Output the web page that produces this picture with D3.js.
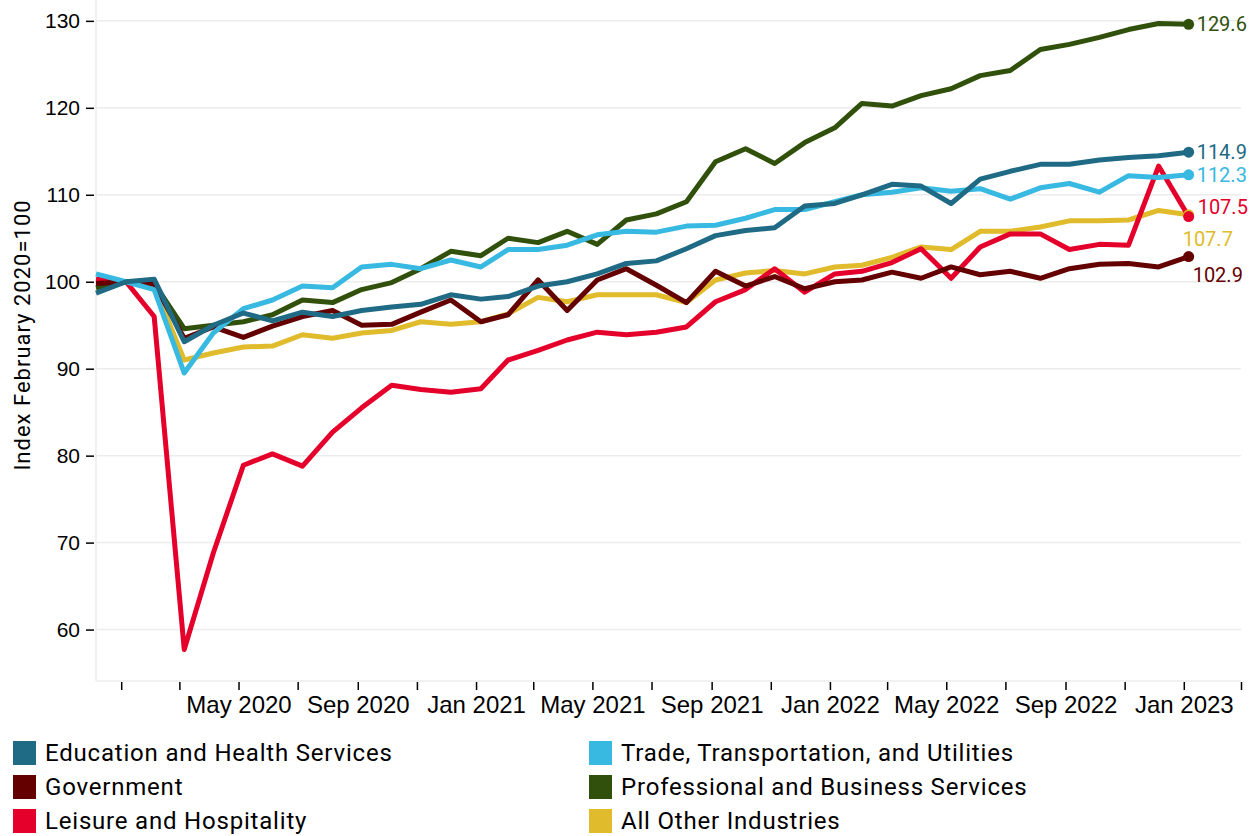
<!DOCTYPE html>
<html>
<head>
<meta charset="utf-8">
<script src="https://cdn.jsdelivr.net/npm/d3@7"></script>
<style>
  body { margin: 0; background: #fff; }
  svg { font-family: Roboto, "Noto Sans", sans-serif; }
</style>
</head>
<body>
<div id="chart"></div>
<script>
// months Jan 2020 - Feb 2023
const months = [
  "2020-01","2020-02","2020-03","2020-04","2020-05","2020-06","2020-07","2020-08","2020-09","2020-10","2020-11","2020-12",
  "2021-01","2021-02","2021-03","2021-04","2021-05","2021-06","2021-07","2021-08","2021-09","2021-10","2021-11","2021-12",
  "2022-01","2022-02","2022-03","2022-04","2022-05","2022-06","2022-07","2022-08","2022-09","2022-10","2022-11","2022-12",
  "2023-01","2023-02"
];

const education = [98.7,100,100.3,93.1,95.0,96.4,95.5,96.5,96.0,96.7,97.1,97.4,
  98.5,98.0,98.3,99.5,100.0,100.9,102.1,102.4,103.8,105.3,105.9,106.2,
  108.7,109.0,110.0,111.2,111.0,109.0,111.8,112.7,113.5,113.5,114.0,114.3,
  114.5,114.9];
const trade = [100.9,100,99.1,89.5,94.1,96.9,97.9,99.5,99.3,101.7,102.0,101.5,
  102.5,101.7,103.7,103.7,104.2,105.4,105.8,105.7,106.4,106.5,107.3,108.3,
  108.3,109.2,110.0,110.3,110.8,110.4,110.7,109.5,110.8,111.3,110.3,112.2,
  112.0,112.3];
const government = [99.8,100,99.7,93.5,94.8,93.6,94.9,96.0,96.7,95.0,95.1,96.5,
  97.9,95.4,96.2,100.2,96.7,100.2,101.5,99.6,97.6,101.2,99.5,100.6,
  99.2,100.0,100.2,101.1,100.4,101.7,100.8,101.2,100.4,101.5,102.0,102.1,
  101.7,102.9];
const professional = [99.3,100,99.8,94.6,95.0,95.4,96.2,97.9,97.6,99.1,99.9,101.5,
  103.5,103.0,105.0,104.5,105.8,104.3,107.1,107.8,109.2,113.8,115.3,113.6,
  116.0,117.7,120.5,120.2,121.4,122.2,123.7,124.3,126.7,127.3,128.1,129.0,
  129.7,129.6];
const leisure = [100.3,100,96.0,57.7,68.8,78.9,80.2,78.8,82.7,85.5,88.1,87.6,
  87.3,87.7,91.0,92.1,93.3,94.2,93.9,94.2,94.8,97.7,99.1,101.5,
  98.8,100.9,101.2,102.2,103.8,100.4,104.0,105.5,105.5,103.7,104.3,104.2,
  113.3,107.5];
const otherIndustries = [99.5,100,99.5,91.0,91.8,92.5,92.6,93.9,93.5,94.1,94.4,95.4,
  95.1,95.4,96.3,98.2,97.7,98.5,98.5,98.5,97.6,100.2,101.0,101.3,
  100.9,101.7,101.9,102.8,104.0,103.7,105.8,105.8,106.3,107.0,107.0,107.1,
  108.2,107.7];

const yTicks = [60, 70, 80, 90, 100, 110, 120, 130];

const series = [
  {name: "Education and Health Services", values: education, color: "#1f6a84"},
  {name: "Trade, Transportation, and Utilities", values: trade, color: "#37b9e1"},
  {name: "Government", values: government, color: "#650000"},
  {name: "Professional and Business Services", values: professional, color: "#30500b"},
  {name: "Leisure and Hospitality", values: leisure, color: "#e4002b"},
  {name: "All Other Industries", values: otherIndustries, color: "#e0bb2c"}
];

// end label nudges
const labelNudge = {
  "Education and Health Services": [8, 0],
  "Trade, Transportation, and Utilities": [8, 0],
  "Government": [4, 18],
  "Professional and Business Services": [8, 0],
  "Leisure and Hospitality": [9, -10],
  "All Other Industries": [-6, 24]
};

const width = 1255, height = 836;
const parseMonth = d3.utcParse("%Y-%m");
const dates = months.map(parseMonth);

const svg = d3.select("#chart")
  .append("svg")
  .attr("width", width)
  .attr("height", height);

const x = d3.scaleUtc()
  .domain([parseMonth("2020-01"), new Date(Date.UTC(2023, 2, 27))])
  .range([96, 1241]);

// the axis in the original sits ~26 days off the data points
const xTickScale = x.copy().domain(x.domain().map(d => d3.utcDay.offset(d, -26)));

const y = d3.scaleLinear()
  .domain([54.2, 132.4])
  .range([680, 0]);

// grid
svg.append("g")
  .selectAll("line")
  .data(yTicks)
  .join("line")
    .attr("x1", 96)
    .attr("x2", 1241)
    .attr("y1", d => y(d))
    .attr("y2", d => y(d))
    .attr("stroke", "#ececec")
    .attr("stroke-width", 1.5);

svg.append("line")
  .attr("x1", 96).attr("x2", 96)
  .attr("y1", 0).attr("y2", 681)
  .attr("stroke", "#ececec").attr("stroke-width", 1.5);
svg.append("line")
  .attr("x1", 96).attr("x2", 1241)
  .attr("y1", 681).attr("y2", 681)
  .attr("stroke", "#ececec").attr("stroke-width", 1.5);

// Y axis
const yAxis = svg.append("g")
  .attr("transform", "translate(94,0)")
  .call(d3.axisLeft(y).tickValues(yTicks).tickSize(8).tickPadding(6));
yAxis.select(".domain").remove();
yAxis.selectAll("line").attr("stroke", "#000").attr("stroke-width", 1.5);
yAxis.selectAll("text").attr("font-size", 21).attr("fill", "#000").attr("font-family", null);

// X axis
const fmt = d3.utcFormat("%b %Y");
const firstLabel = new Date(Date.UTC(2020, 4, 1));
const xAxis = svg.append("g")
  .attr("transform", "translate(0,682)")
  .call(d3.axisBottom(xTickScale)
    .ticks(d3.utcMonth.every(2))
    .tickSize(8)
    .tickPadding(6)
    .tickFormat(d => ([0, 4, 8].includes(d.getUTCMonth()) && d >= firstLabel) ? fmt(d) : ""));
xAxis.select(".domain").remove();
xAxis.selectAll("line").attr("stroke", "#000").attr("stroke-width", 1.5);
xAxis.selectAll("text").attr("font-size", 24).attr("fill", "#000").attr("font-family", null);

svg.append("text")
  .attr("transform", "translate(30,335) rotate(-90)")
  .attr("text-anchor", "middle")
  .attr("font-size", 22)
  .attr("letter-spacing", 1)
  .text("Index February 2020=100");

// lines
const line = d3.line()
  .x((d, i) => x(dates[i]))
  .y(d => y(d));

const drawOrder = series.slice().reverse();

svg.append("g")
  .selectAll("path")
  .data(drawOrder)
  .join("path")
    .attr("fill", "none")
    .attr("stroke", d => d.color)
    .attr("stroke-width", 5)
    .attr("stroke-linejoin", "round")
    .attr("d", d => line(d.values));

const last = dates.length - 1;
svg.append("g")
  .selectAll("circle")
  .data(drawOrder)
  .join("circle")
    .attr("cx", x(dates[last]))
    .attr("cy", d => y(d.values[last]))
    .attr("r", 5.5)
    .attr("fill", d => d.color);

svg.append("g")
  .selectAll("text")
  .data(series)
  .join("text")
    .attr("x", d => x(dates[last]) + labelNudge[d.name][0])
    .attr("y", d => y(d.values[last]) + labelNudge[d.name][1])
    .attr("dy", "0.35em")
    .attr("font-size", 20)
    .attr("fill", d => d.color)
    .text(d => d.values[last].toFixed(1));

// legend
const legend = svg.append("g")
  .selectAll("g")
  .data(series)
  .join("g")
    .attr("transform", (d, i) => `translate(${i % 2 === 0 ? 13 : 589}, ${741 + Math.floor(i / 2) * 34})`);

legend.append("rect")
  .attr("width", 23)
  .attr("height", 24)
  .attr("fill", d => d.color);

legend.append("text")
  .attr("x", 32)
  .attr("y", 12)
  .attr("dy", "0.35em")
  .attr("font-size", 24)
  .attr("letter-spacing", 0.8)
  .text(d => d.name);
</script>
</body>
</html>
